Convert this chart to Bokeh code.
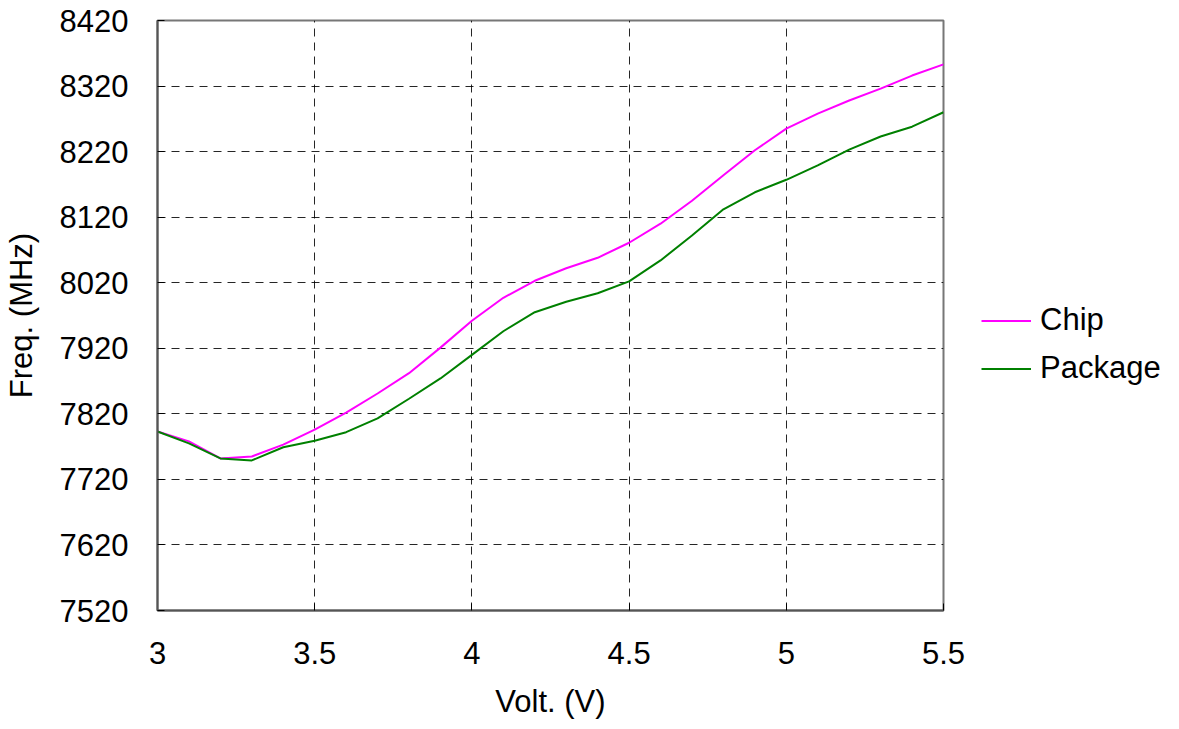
from bokeh.plotting import figure
from bokeh.layouts import row
from bokeh.models import Range1d, FixedTicker, Legend, LegendItem
from bokeh.embed import file_html
from bokeh.resources import INLINE

volt = [3.0, 3.1, 3.2, 3.3, 3.4, 3.5, 3.6, 3.7, 3.8, 3.9, 4.0, 4.1, 4.2,
        4.3, 4.4, 4.5, 4.6, 4.7, 4.8, 4.9, 5.0, 5.1, 5.2, 5.3, 5.4, 5.5]
chip = [7793, 7778, 7752, 7755, 7773, 7796, 7822, 7851, 7882, 7921, 7962, 7997, 8023,
        8042, 8058, 8081, 8110, 8145, 8184, 8222, 8255, 8278, 8298, 8316, 8336, 8353]
package = [7793, 7775, 7752, 7749, 7769, 7779, 7792, 7813, 7843, 7874, 7910, 7946, 7975,
           7991, 8004, 8022, 8054, 8092, 8132, 8158, 8177, 8199, 8223, 8243, 8258, 8280]
x_ticks = [3.0, 3.5, 4.0, 4.5, 5.0, 5.5]
y_ticks = [7520, 7620, 7720, 7820, 7920, 8020, 8120, 8220, 8320, 8420]

FONT = "Liberation Sans"
FS = "31px"
CHIP_COLOR = "#FF00FF"
PKG_COLOR = "#008000"

p = figure(width=973, height=727, output_backend="svg", toolbar_location=None,
           x_range=Range1d(3.0, 5.5), y_range=Range1d(7520, 8420),
           min_border_left=157, min_border_right=30, min_border_top=20,
           min_border_bottom=117)

p.xaxis.ticker = FixedTicker(ticks=x_ticks)
p.yaxis.ticker = FixedTicker(ticks=y_ticks)
p.xaxis.major_label_overrides = {3.0: "3", 3.5: "3.5", 4.0: "4", 4.5: "4.5", 5.0: "5", 5.5: "5.5"}

for ax in (p.xaxis[0], p.yaxis[0]):
    ax.major_label_text_font = FONT
    ax.major_label_text_font_size = FS
    ax.major_label_text_color = "black"
    ax.axis_label_text_font = FONT
    ax.axis_label_text_font_size = FS
    ax.axis_label_text_font_style = "normal"
    ax.axis_label_text_color = "black"
    ax.major_tick_in = 7
    ax.major_tick_out = 0
    ax.minor_tick_line_color = None
    ax.axis_line_color = "#555555"
    ax.axis_line_width = 2
    ax.major_tick_line_color = "black"

p.xaxis.axis_label = "Volt. (V)"
p.yaxis.axis_label = "Freq. (MHz)"
p.xaxis.major_label_standoff = 31
p.yaxis.major_label_standoff = 29
p.xaxis.axis_label_standoff = 17
p.yaxis.axis_label_standoff = 18

p.outline_line_color = "#777777"
p.outline_line_width = 2

for g in (p.xgrid[0], p.ygrid[0]):
    g.grid_line_color = "black"
    g.grid_line_dash = "8 6"
    g.grid_line_width = 1
    g.grid_line_alpha = 0.85

p.line(volt, chip, line_color=CHIP_COLOR, line_width=2)
p.line(volt, package, line_color=PKG_COLOR, line_width=2)

# separate panel holding the legend, to the right of the plot
q = figure(width=198, height=727, output_backend="svg", toolbar_location=None,
           x_axis_location=None, y_axis_location=None,
           min_border_left=0, min_border_right=0, min_border_top=20, min_border_bottom=117,
           x_range=Range1d(0, 1), y_range=Range1d(0, 1))
q.xgrid.visible = False
q.ygrid.visible = False
q.outline_line_color = None
q.background_fill_color = "white"
q.border_fill_color = "white"
l1 = q.line(x=[-5, -4], y=[-5, -5], line_color=CHIP_COLOR, line_width=2)
l2 = q.line(x=[-5, -4], y=[-5, -5], line_color=PKG_COLOR, line_width=2)

legend = Legend(items=[LegendItem(label="Chip", renderers=[l1]),
                       LegendItem(label="Package", renderers=[l2])],
                location=(8, 224), border_line_color=None, background_fill_alpha=0,
                label_text_font=FONT, label_text_font_size=FS, label_text_color="black",
                glyph_width=50, glyph_height=35, label_height=35, label_standoff=9,
                spacing=12, padding=0, margin=0)
q.add_layout(legend, "center")

p.background_fill_color = "white"
p.border_fill_color = "white"

layout = row(p, q, spacing=0)
open("out.html", "w").write(file_html(layout, INLINE))
